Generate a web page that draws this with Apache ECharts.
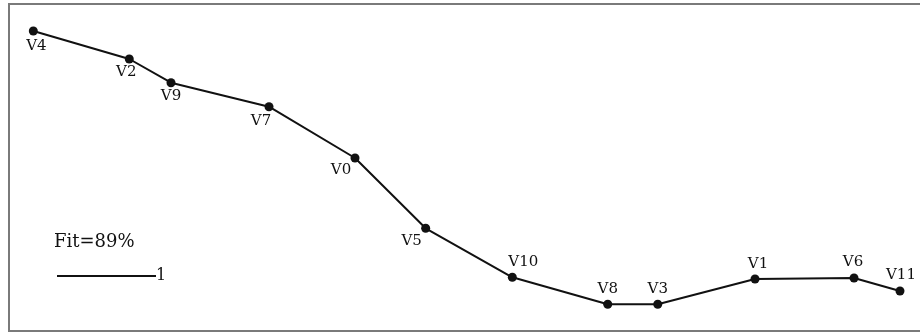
<!DOCTYPE html>
<html>
<head>
<meta charset="utf-8">
<script src="https://cdn.jsdelivr.net/npm/echarts@6/dist/echarts.min.js"></script>
<style>
  html, body { margin: 0; padding: 0; background: #fff; overflow: hidden; }
  #chart { width: 920px; height: 332px; }
</style>
</head>
<body>
<div id="chart"></div>
<script>
// point names, in drawing order
const names = ['V4', 'V2', 'V9', 'V7', 'V0', 'V5', 'V10', 'V8', 'V3', 'V1', 'V6', 'V11']
// coordinates (0..100 both ways)
const xValues = [2.64, 13.06, 17.59, 28.23, 37.57, 45.24, 54.65, 65.01, 70.44, 81.0, 91.75, 96.74]
const yValues = [91.74, 83.18, 75.93, 68.59, 52.91, 31.41, 16.42, 8.17, 8.17, 15.9, 16.21, 12.23]
const seriesName = '1'
const fitText = 'Fit=89%'

// where each name sits next to its dot
const labelOffsets = [
  [3, 15], [-3, 13], [0, 13], [-8, 14], [-14, 12], [-14, 13],
  [11, -15], [0, -15], [0, -15], [3, -15], [-1, -16], [1, -16]
]

const chart = echarts.init(document.getElementById('chart'))
const fontFamily = '"DejaVu Serif", "Liberation Serif", serif'

const points = names.map((n, i) => ({
  name: n,
  value: [xValues[i], yValues[i]],
  label: { offset: labelOffsets[i] }
}))

const option = {
  animation: false,
  title: {
    text: fitText,
    left: 54,
    top: 233,
    padding: 0,
    textStyle: { fontFamily, fontSize: 18, fontWeight: 'normal', color: '#111' }
  },
  legend: {
    left: 57,
    top: 268,
    padding: 0,
    icon: 'rect',
    itemWidth: 99,
    itemHeight: 2,
    itemGap: 0,
    textStyle: { fontFamily, fontSize: 16, color: '#111', padding: [0, 0, 15, -5] },
    data: [seriesName]
  },
  grid: {
    left: 9,
    top: 4,
    width: 921,
    bottom: 1,
    outerBoundsMode: 'none',
    show: true,
    borderColor: '#7a7a7a',
    borderWidth: 2
  },
  xAxis: {
    type: 'value',
    min: 0,
    max: 100,
    show: false
  },
  yAxis: {
    type: 'value',
    min: 0,
    max: 100,
    show: false
  },
  series: [
    {
      name: seriesName,
      type: 'line',
      data: points,
      symbol: 'circle',
      symbolSize: 9,
      itemStyle: { color: '#111' },
      lineStyle: { color: '#111', width: 2 },
      label: {
        show: true,
        position: 'inside',
        formatter: p => p.name,
        fontFamily,
        fontSize: 15,
        color: '#111'
      }
    }
  ]
}

chart.setOption(option)
</script>
</body>
</html>
